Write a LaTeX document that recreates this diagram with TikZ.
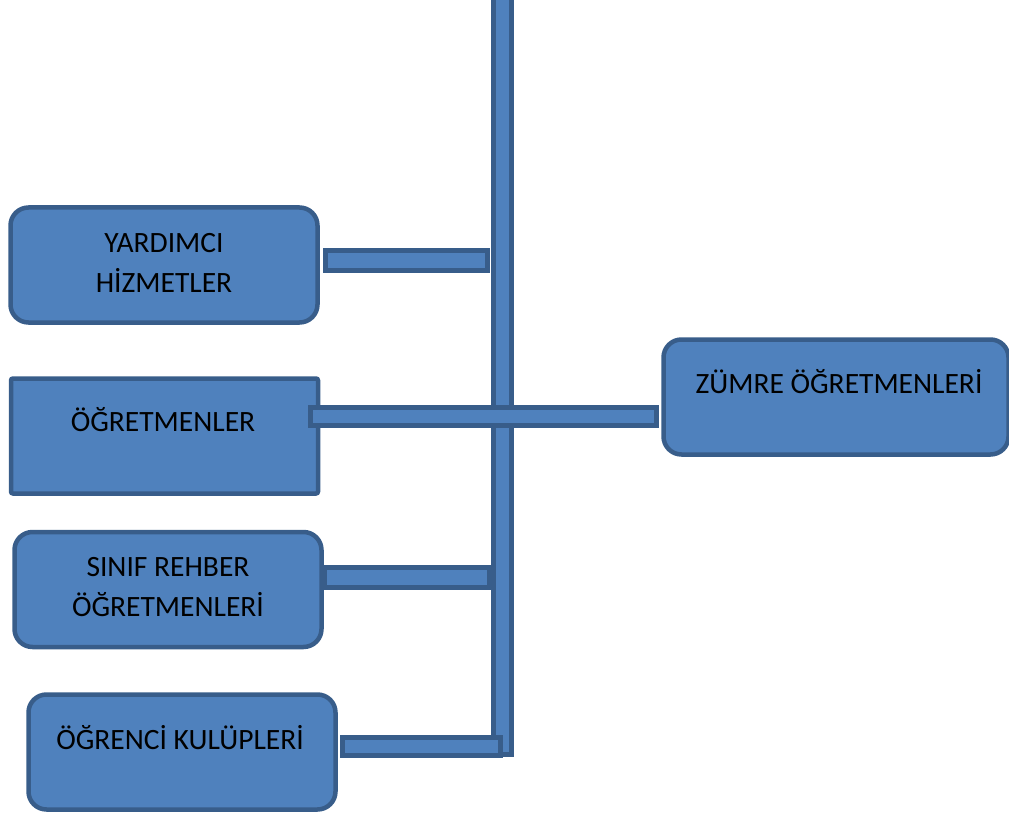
\documentclass[tikz,border=0pt]{standalone}
\usepackage{fontspec}
\setmainfont{Carlito}
\definecolor{boxfill}{HTML}{4F81BD}
\definecolor{boxline}{HTML}{385D8A}
\begin{document}
\begin{tikzpicture}[x=1pt,y=-1pt,
  box/.style={draw=boxline,fill=boxfill,line width=4.5pt,rounded corners=18pt,
    minimum width=307pt,minimum height=115pt,inner sep=0pt},
  barstyle/.style={draw=boxline,fill=boxfill,line width=4.5pt},
  txt/.style={font=\fontsize{29.5}{40}\selectfont,align=center,text=black,inner sep=0pt}]
\useasboundingbox (0,0) rectangle (1009,818);
% boxes
\node[box] (yard) at (164,265) {};
\node[box,rounded corners=2pt] (ogrt) at (164.5,436) {};
\node[box] (sinif) at (168,589.5) {};
\node[box] (ogrenci) at (182,752) {};
\node[box,minimum width=345pt] (zumre) at (836,397) {};
% vertical bar
\draw[barstyle] (493.5,-10) rectangle (511.5,754.5);
% connector bars
\draw[barstyle] (325.5,250.5) rectangle (487.5,270.5);
\draw[barstyle] (310.5,407.5) rectangle (656.5,425.5);
\draw[barstyle] (324.5,567.5) rectangle (489.5,587.5);
\draw[barstyle] (342.5,737.5) rectangle (500.5,755.5);
% texts
\node[txt] (tyard) at (164,263) {YARDIMCI\\HİZMETLER};
\node[txt] (togrt) at (163,420) {ÖĞRETMENLER};
\node[txt] (tsinif) at (168,587) {SINIF REHBER\\ÖĞRETMENLERİ};
\node[txt] (togrenci) at (180,738) {ÖĞRENCİ KULÜPLERİ};
\node[txt] (tzumre) at (839,382) {ZÜMRE ÖĞRETMENLERİ};
\end{tikzpicture}
\end{document}
